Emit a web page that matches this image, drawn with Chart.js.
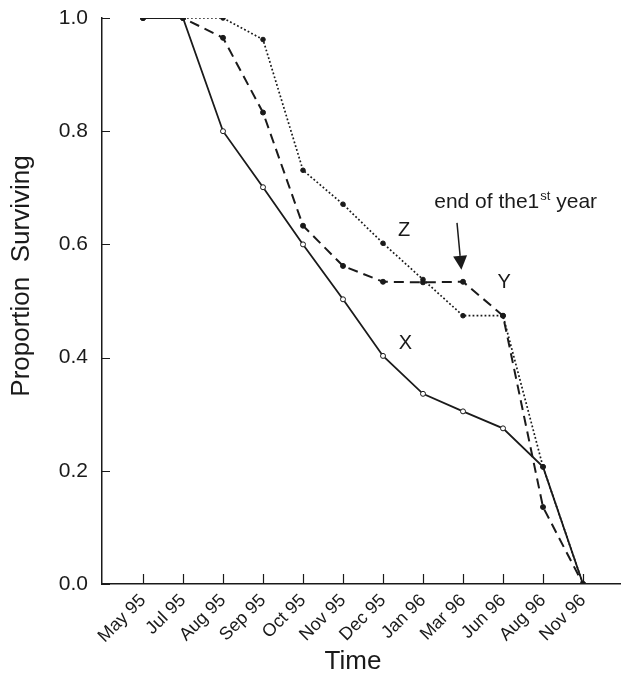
<!DOCTYPE html>
<html>
<head>
<meta charset="utf-8">
<title>Proportion Surviving</title>
<script src="https://cdn.jsdelivr.net/npm/chart.js"></script>
<style>
	html, body { margin: 0; padding: 0; background: #fff; overflow: hidden; }
	#wrap { width: 621px; height: 683px; position: relative; }
</style>
</head>
<body>
<div id="wrap"><canvas id="chart"></canvas></div>
<script>

	// 調査月（横軸のカテゴリ）
	const months = ['May 95', 'Jul 95', 'Aug 95', 'Sep 95', 'Oct 95', 'Nov 95',
		'Dec 95', 'Jan 96', 'Mar 96', 'Jun 96', 'Aug 96', 'Nov 96'];

	// 各グループの生存率
	const seriesX = [1.0, 1.0, 0.800, 0.701, 0.600, 0.503, 0.403, 0.336, 0.305, 0.275, 0.207, 0.0];
	const seriesY = [1.0, 1.0, 0.965, 0.833, 0.633, 0.562, 0.534, 0.533, 0.534, 0.474, 0.136, 0.0];
	const seriesZ = [1.0, 1.0, 1.000, 0.962, 0.731, 0.671, 0.602, 0.538, 0.474, 0.474, 0.207, 0.0];

	// 縦軸の目盛
	const yTicks = [0, 0.2, 0.4, 0.6, 0.8, 1.0];

	const FONT = '"Liberation Sans", Arial, Helvetica, sans-serif';
	const INK = '#1a1a1a';

	/**
	 * 系列名ラベルと注記（値はデータ座標）
	 */
	const notes = [
		{ text: 'Z', x: 6.53, y: 0.624 },
		{ text: 'Y', x: 9.03, y: 0.533 },
		{ text: 'X', x: 6.56, y: 0.425 }
	];
	const caption = { x: 7.28, y: 0.664 };
	const arrow = { x1: 7.85, y1: 0.638, x2: 7.96, y2: 0.555 };

	/**
	 * 内向きの目盛線、軸タイトル、注記を描画する
	 */
	const notesPlugin = {
		id: 'notes',
		afterDraw(chart) {
			const ctx = chart.ctx;
			const sx = chart.scales.x;
			const sy = chart.scales.y;
			ctx.save();
			ctx.setLineDash([]);
			ctx.fillStyle = INK;
			ctx.strokeStyle = INK;

			// 目盛線（内向き）
			ctx.lineWidth = 1.2;
			ctx.beginPath();
			sx.ticks.forEach(t => {
				const tx = Math.round(sx.getPixelForValue(t.value)) + 0.5;
				ctx.moveTo(tx, sx.top);
				ctx.lineTo(tx, sx.top - 10);
			});
			sy.ticks.forEach(t => {
				const ty = Math.round(sy.getPixelForValue(t.value)) + 0.5;
				ctx.moveTo(sy.right, ty);
				ctx.lineTo(sy.right + 8, ty);
			});
			ctx.stroke();

			// 系列名
			ctx.font = '20px ' + FONT;
			ctx.textAlign = 'center';
			ctx.textBaseline = 'middle';
			notes.forEach(n => {
				ctx.fillText(n.text, sx.getPixelForValue(n.x), sy.getPixelForValue(n.y));
			});

			// end of the 1st year
			ctx.textAlign = 'left';
			ctx.textBaseline = 'alphabetic';
			let px = sx.getPixelForValue(caption.x);
			let py = sy.getPixelForValue(caption.y);
			ctx.font = '21px ' + FONT;
			ctx.fillText('end of the1', px, py);
			px += ctx.measureText('end of the1').width + 1;
			ctx.font = '13px ' + FONT;
			ctx.fillText('st', px, py - 8);
			px += ctx.measureText('st').width;
			ctx.font = '21px ' + FONT;
			ctx.fillText(' year', px, py);

			// 矢印
			const ax1 = sx.getPixelForValue(arrow.x1);
			const ay1 = sy.getPixelForValue(arrow.y1);
			const ax2 = sx.getPixelForValue(arrow.x2);
			const ay2 = sy.getPixelForValue(arrow.y2);
			const ang = Math.atan2(ay2 - ay1, ax2 - ax1);
			const head = 14;
			const half = 7;
			const bx = ax2 - head * Math.cos(ang);
			const by = ay2 - head * Math.sin(ang);
			ctx.lineWidth = 1.5;
			ctx.beginPath();
			ctx.moveTo(ax1, ay1);
			ctx.lineTo(bx, by);
			ctx.stroke();
			ctx.beginPath();
			ctx.moveTo(ax2, ay2);
			ctx.lineTo(bx + half * Math.sin(ang), by - half * Math.cos(ang));
			ctx.lineTo(bx - half * Math.sin(ang), by + half * Math.cos(ang));
			ctx.closePath();
			ctx.fill();

			// 軸タイトル
			ctx.font = '26px ' + FONT;
			ctx.textAlign = 'center';
			ctx.textBaseline = 'middle';
			ctx.fillText('Time', 353, 662);
			ctx.translate(22, 276);
			ctx.rotate(-Math.PI / 2);
			ctx.fillText('Proportion  Surviving', 0, 0);

			ctx.restore();
		}
	};

	function toPoints(values) {
		return values.map((v, i) => ({ x: i, y: v }));
	}

	const config = {
		type: 'line',
		data: {
			datasets: [
				{
					label: 'Z',
					data: toPoints(seriesZ),
					borderColor: INK,
					borderWidth: 1.7,
					borderDash: [1.8, 2.2],
					pointRadius: 2.3,
					pointBackgroundColor: INK,
					pointBorderColor: INK,
					pointBorderWidth: 1,
					tension: 0
				},
				{
					label: 'Y',
					data: toPoints(seriesY),
					borderColor: INK,
					borderWidth: 2,
					borderDash: [10, 6],
					pointRadius: 2.5,
					pointBackgroundColor: INK,
					pointBorderColor: INK,
					pointBorderWidth: 1,
					tension: 0
				},
				{
					label: 'X',
					data: toPoints(seriesX),
					borderColor: INK,
					borderWidth: 1.8,
					pointRadius: 2.5,
					pointBackgroundColor: '#fff',
					pointBorderColor: INK,
					pointBorderWidth: 1,
					tension: 0
				}
			]
		},
		options: {
			responsive: true,
			maintainAspectRatio: false,
			animation: false,
			layout: {
				autoPadding: false,
				padding: { top: 18, right: 0, bottom: 0, left: 0 }
			},
			plugins: {
				legend: { display: false },
				tooltip: { enabled: false }
			},
			scales: {
				x: {
					type: 'linear',
					min: -1.025,
					max: 11.95,
					afterBuildTicks: scale => {
						scale.ticks = months.map((m, i) => ({ value: i }));
					},
					afterFit: scale => {
						scale.height = 99;
						scale.paddingLeft = 0;
						scale.paddingRight = 0;
					},
					grid: { display: false, drawTicks: false },
					border: { color: INK, width: 1.5 },
					ticks: {
						autoSkip: false,
						minRotation: 45,
						maxRotation: 45,
						padding: 6,
						color: INK,
						font: { family: FONT, size: 18 },
						callback: value => months[value]
					}
				},
				y: {
					min: 0,
					max: 1,
					afterBuildTicks: scale => {
						scale.ticks = yTicks.map(v => ({ value: v }));
					},
					afterFit: scale => {
						scale.width = 102;
						scale.paddingTop = 0;
						scale.paddingBottom = 0;
					},
					grid: { display: false, drawTicks: false },
					border: { color: INK, width: 1.5 },
					ticks: {
						padding: 14,
						color: INK,
						font: { family: FONT, size: 21 },
						callback: value => value.toFixed(1)
					}
				}
			}
		},
		plugins: [notesPlugin]
	};

	window.myChart = new Chart(document.getElementById('chart').getContext('2d'), config);

</script>
</body>
</html>
